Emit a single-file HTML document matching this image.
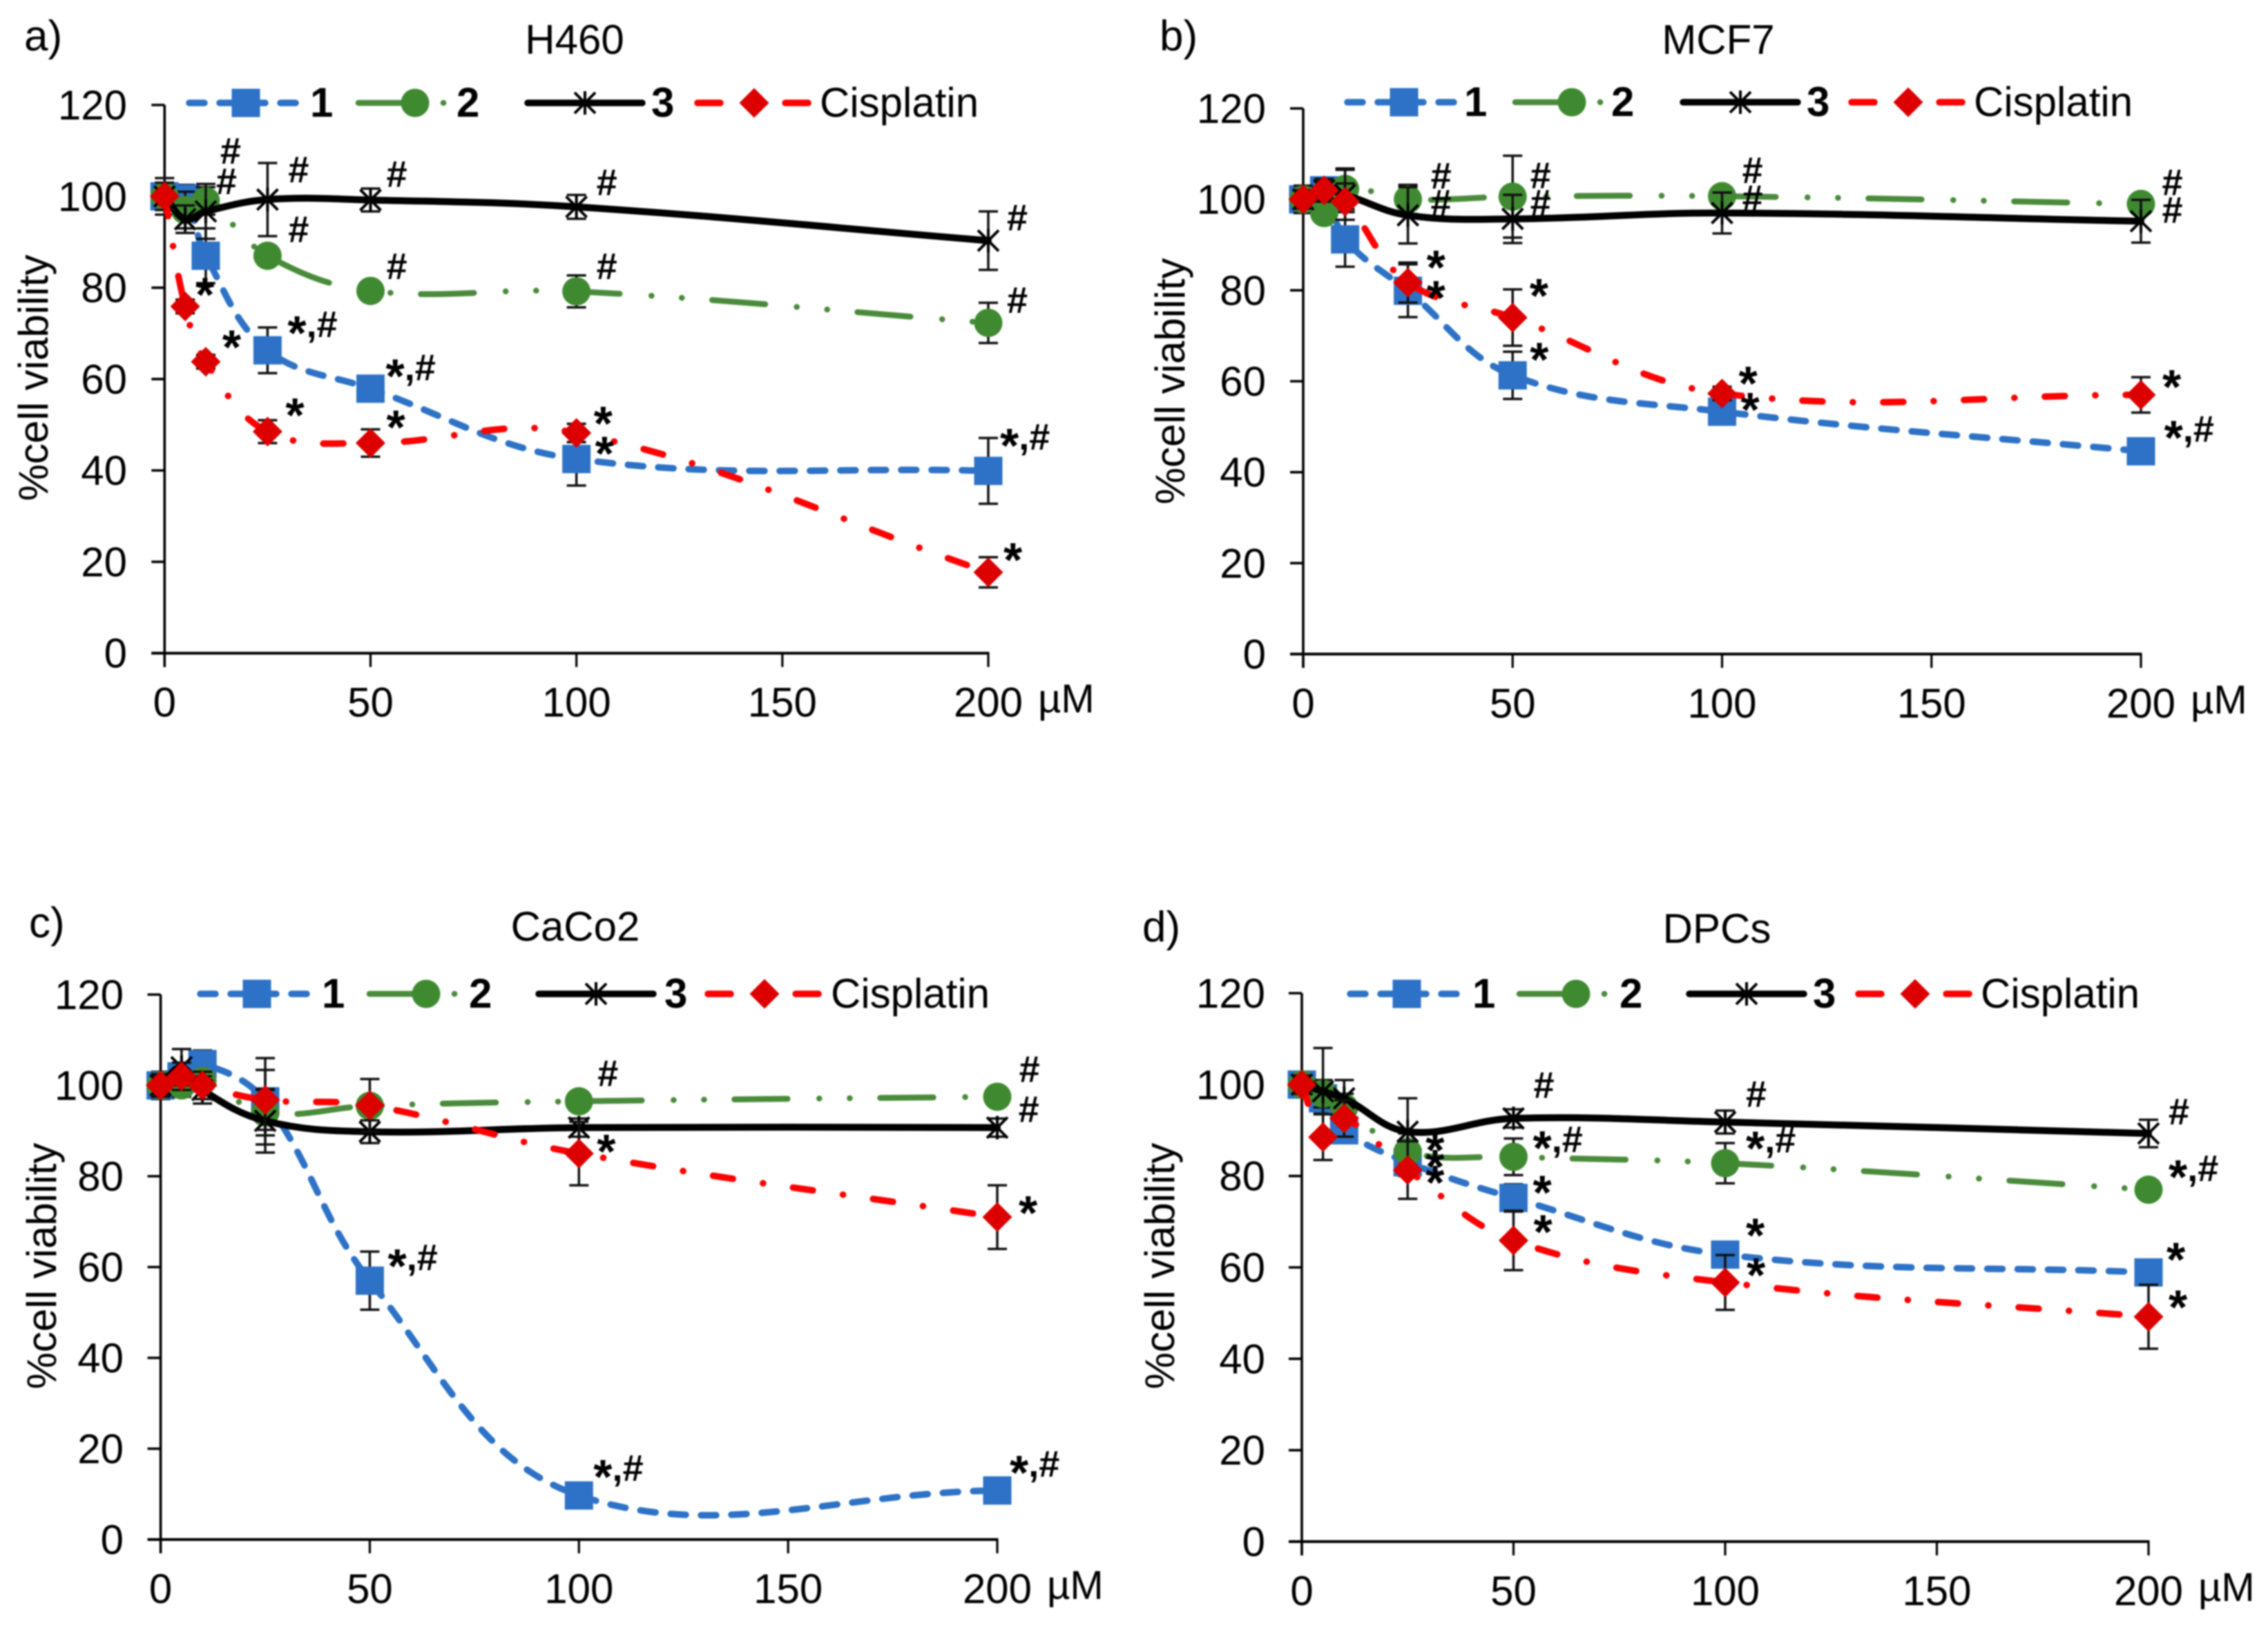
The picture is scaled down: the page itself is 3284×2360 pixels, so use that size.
<!DOCTYPE html>
<html lang="en">
<head>
<meta charset="utf-8">
<title>Cell viability charts</title>
<style>
html,body{margin:0;padding:0;background:#fff;}
svg{display:block;filter:blur(1px);}
text{font-family:"Liberation Sans",Arial,sans-serif;fill:#000;}
</style>
</head>
<body>
<svg id="root" xmlns="http://www.w3.org/2000/svg" width="3284" height="2360" viewBox="0 0 3284 2360"></svg>
<script>
const doses = [0, 5, 10, 25, 50, 100, 200];
const xTicks = [0, 50, 100, 150, 200];
const yTicks = [0, 20, 40, 60, 80, 100, 120];

const h460Compound1 = [100, 99.5, 87, 66.3, 57.9, 42.5, 39.9];
const h460Compound2 = [100, 97, 99, 87, 79.3, 79.2, 72.3];
const h460Compound3 = [100, 95, 96.7, 99.3, 99.2, 97.7, 90.3];
const h460Cisplatin = [100, 75.9, 63.8, 48.5, 46, 48.2, 17.7];
const h460Err1 = [4, 3, 6, 5, 1.5, 5.8, 7.2];
const h460Err2 = [2, 4, 3, 2, 1.5, 3.5, 4.4];
const h460Err3 = [1, 3, 6, 8, 2.5, 2.6, 6.4];
const h460ErrCis = [3, 1.5, 1.5, 2.5, 3, 2, 3.3];

const mcf7Compound1 = [100, 102, 91.2, 79.9, 61.3, 53.3, 44.6];
const mcf7Compound2 = [100, 97, 102.3, 100, 100.6, 100.7, 99];
const mcf7Compound3 = [100, 102, 101, 96.5, 95.7, 97, 95.2];
const mcf7Cisplatin = [100, 102, 99.5, 81.7, 74, 57.3, 57];
const mcf7Err1 = [3, 2, 6, 5.8, 5.2, 1.5, 1.5];
const mcf7Err2 = [3, 2, 4.5, 3.2, 9, 2, 1.5];
const mcf7Err3 = [2, 2.5, 5.5, 6.2, 5.3, 4.5, 4.7];
const mcf7ErrCis = [2, 2, 4, 4.4, 6.2, 1.5, 3.9];

const caco2Compound1 = [100, 102, 104.7, 96.5, 57, 9.7, 10.8];
const caco2Compound2 = [100, 100, 101, 94, 95.5, 96.5, 97.5];
const caco2Compound3 = [100, 104, 99, 92.2, 89.8, 90.7, 90.7];
const caco2Cisplatin = [100, 102, 100, 96.8, 95.6, 85, 71];
const caco2Err1 = [3, 3, 3, 9.5, 6.4, 1.5, 1.5];
const caco2Err2 = [2.5, 2.5, 2, 5, 2, 2, 2];
const caco2Err3 = [2.5, 4, 3, 7, 2.5, 2, 2];
const caco2ErrCis = [2, 3, 3, 6.6, 5.8, 7, 7];

const dpcCompound1 = [100, 97, 90, 83, 75.2, 62.8, 58.9];
const dpcCompound2 = [100, 98, 95, 85.3, 84.2, 82.8, 77];
const dpcCompound3 = [100, 98.5, 97, 89.7, 92.6, 91.8, 89.3];
const dpcCisplatin = [100, 88.5, 92.6, 81.3, 65.9, 56.7, 49.2];
const dpcErr1 = [2, 3, 2, 3, 3, 2, 2];
const dpcErr2 = [2, 3, 3, 4, 4, 4.4, 1.5];
const dpcErr3 = [1, 9.5, 4, 7.3, 2, 2.5, 3];
const dpcErrCis = [2, 5, 4, 6.3, 6.5, 6, 7];

const NS = 'http://www.w3.org/2000/svg';
const root = document.getElementById('root');

function add(parent, tag, attrs, name, content) {
  const el = document.createElementNS(NS, tag);
  for (const k in attrs) el.setAttribute(k, attrs[k]);
  
  
  if (content !== undefined) el.textContent = content;
  parent.appendChild(el);
  return el;
}

const BLUE = '#2d72c6', GREEN = '#3f8a30', GREENL = '#4a8b3b', RED = '#ff0000', REDM = '#dc0000';
const DASH1 = '22 22';
const DASH2 = '77 46 0.1 44 0.1 44';
const DASH4 = '29 44 0.1 44';
const FS = 60;

function xOf(p, d) { return p.left + (p.right - p.left) * d / 200; }
function yOf(p, v) { return p.bottom - (p.bottom - p.top) * v / 120; }

function smoothPath(pts) {
  const K = 0.38;
  let d = 'M' + pts[0][0].toFixed(1) + ' ' + pts[0][1].toFixed(1);
  const ctrl = (i, dir) => {
    const prev = pts[Math.max(i - 1, 0)], cur = pts[i], next = pts[Math.min(i + 1, pts.length - 1)];
    const lp = Math.hypot(cur[0] - prev[0], cur[1] - prev[1]);
    const ln = Math.hypot(next[0] - cur[0], next[1] - cur[1]);
    const tot = lp + ln || 1;
    const f = (dir > 0 ? ln : lp) / tot * K * dir;
    return [cur[0] + (next[0] - prev[0]) * f, cur[1] + (next[1] - prev[1]) * f];
  };
  for (let i = 0; i < pts.length - 1; i++) {
    const c1 = ctrl(i, 1), c2 = ctrl(i + 1, -1);
    d += 'C' + c1[0].toFixed(1) + ' ' + c1[1].toFixed(1) + ' ' + c2[0].toFixed(1) + ' ' + c2[1].toFixed(1) + ' ' + pts[i + 1][0].toFixed(1) + ' ' + pts[i + 1][1].toFixed(1);
  }
  return d;
}

function marker(g, kind, x, y, name) {
  if (kind === 'square') {
    add(g, 'rect', { x: x - 20.5, y: y - 20.5, width: 41, height: 41, fill: BLUE }, name);
  } else if (kind === 'circle') {
    add(g, 'circle', { cx: x, cy: y, r: 20.5, fill: GREEN }, name);
  } else if (kind === 'star') {
    const s = 15;
    const d = 'M' + (x - s) + ' ' + (y - s) + 'L' + (x + s) + ' ' + (y + s) + 'M' + (x - s) + ' ' + (y + s) + 'L' + (x + s) + ' ' + (y - s) + 'M' + x + ' ' + (y - s - 2) + 'L' + x + ' ' + (y + s + 2);
    add(g, 'path', { d: d, stroke: '#000', 'stroke-width': 4, fill: 'none' }, name);
  } else {
    const s = 21.5;
    add(g, 'path', { d: 'M' + x + ' ' + (y - s) + 'L' + (x + s) + ' ' + y + 'L' + x + ' ' + (y + s) + 'L' + (x - s) + ' ' + y + 'Z', fill: REDM }, name);
  }
}

function drawSeries(g, p, key, values, errs, color, width, dash, kind) {
  const sg = add(g, 'g', {}, key + '-series');
  doses.forEach((d, i) => {
    const x = xOf(p, d), hi = yOf(p, values[i] + errs[i]), lo = yOf(p, values[i] - errs[i]);
    const e = 'M' + x + ' ' + hi + 'L' + x + ' ' + lo + 'M' + (x - 14) + ' ' + hi + 'L' + (x + 14) + ' ' + hi + 'M' + (x - 14) + ' ' + lo + 'L' + (x + 14) + ' ' + lo;
    add(sg, 'path', { d: e, stroke: '#111', 'stroke-width': 3.5, fill: 'none' }, key + '-error-bar');
  });
  const pts = doses.map((d, i) => [xOf(p, d), yOf(p, values[i])]);
  const attrs = { d: smoothPath(pts), fill: 'none', stroke: color, 'stroke-width': width, 'stroke-linecap': 'round' };
  if (dash) attrs['stroke-dasharray'] = dash;
  add(sg, 'path', attrs, key + '-line');
  pts.forEach(pt => marker(sg, kind, pt[0], pt[1], key + '-marker'));
}

function drawLegendItem(g, y, start, center, color, width, dash, kind, labelX, label, bold, key) {
  const item = add(g, 'g', {}, 'legend-entry-' + key);
  const attrs = { x1: start, y1: y, x2: 2 * center - start, y2: y, stroke: color, 'stroke-width': width, 'stroke-linecap': 'round' };
  if (dash) attrs['stroke-dasharray'] = dash;
  add(item, 'line', attrs, 'legend-line-' + key);
  marker(item, kind, center, y, 'legend-marker-' + key);
  const ta = { x: labelX, y: y + 20, 'font-size': FS };
  if (bold) ta['font-weight'] = 'bold';
  add(item, 'text', ta, 'legend-label-' + key, label);
}

function note(p, values, doseIdx, text, dx, dy) {
  const x = xOf(p, doses[doseIdx]) + dx, y = yOf(p, values[doseIdx]) + dy;
  const t = add(p.g, 'text', { x: x, y: y, 'font-size': 54, 'font-weight': 'bold' }, 'significance-mark');
  let shifted = 0;
  for (const ch of text) {
    const ts = document.createElementNS(NS, 'tspan');
    if (ch === '*') {
      ts.setAttribute('font-size', '70');
      ts.setAttribute('dy', String(18 - shifted));
      ts.setAttribute('dx', '-2');
      shifted = 18;
    } else if (shifted) {
      ts.setAttribute('dy', String(-shifted));
      shifted = 0;
    }
    ts.textContent = ch;
    t.appendChild(ts);
  }
}

function drawPanel(cfg, series) {
  const p = cfg;
  p.g = add(root, 'g', {}, 'panel-' + cfg.title.toLowerCase());
  const g = p.g;
  add(g, 'text', { x: cfg.letterX, y: cfg.letterY, 'font-size': 62 }, 'panel-letter', cfg.letter);
  add(g, 'text', { x: cfg.titleX, y: cfg.titleY, 'font-size': FS, 'text-anchor': 'middle' }, 'chart-title', cfg.title);
  add(g, 'text', { x: cfg.ylabelX, y: cfg.ylabelY, 'font-size': FS, 'text-anchor': 'middle', transform: 'rotate(-90 ' + cfg.ylabelX + ' ' + cfg.ylabelY + ')' }, 'y-axis-title', '%cell viability');

  const axis = add(g, 'g', {}, 'axes');
  add(axis, 'line', { x1: p.left, y1: p.top, x2: p.left, y2: p.bottom + 20, stroke: '#000', 'stroke-width': 3.6 }, 'y-axis-line');
  add(axis, 'line', { x1: p.left - 19, y1: p.bottom, x2: p.right + 1.5, y2: p.bottom, stroke: '#000', 'stroke-width': 4 }, 'x-axis-line');
  yTicks.forEach(v => {
    const y = yOf(p, v);
    add(axis, 'line', { x1: p.left - 19, y1: y, x2: p.left, y2: y, stroke: '#000', 'stroke-width': 3.6 }, 'y-tick');
    add(axis, 'text', { x: cfg.ylabelRight, y: y + 21, 'font-size': FS, 'text-anchor': 'end' }, 'y-tick-label', String(v));
  });
  xTicks.forEach(d => {
    const x = xOf(p, d);
    add(axis, 'line', { x1: x, y1: p.bottom, x2: x, y2: p.bottom + 20, stroke: '#000', 'stroke-width': 3.2 }, 'x-tick');
    add(axis, 'text', { x: x, y: p.bottom + 92, 'font-size': FS, 'text-anchor': 'middle' }, 'x-tick-label', String(d));
  });
  add(axis, 'text', { x: p.right + 72, y: p.bottom + 86, 'font-size': 58 }, 'x-axis-unit', 'µM');

  const l = cfg.legend;
  const lg = add(g, 'g', {}, 'legend');
  drawLegendItem(lg, l.y, l.s1, l.s1 + 82, BLUE, 9.5, DASH1, 'square', l.t1, '1', true, 'compound-1');
  drawLegendItem(lg, l.y, l.s2, l.s2 + 82, GREENL, 8.5, DASH2, 'circle', l.t2, '2', true, 'compound-2');
  drawLegendItem(lg, l.y, l.s3, l.s3 + 83, '#000', 9.5, null, 'star', l.t3, '3', true, 'compound-3');
  drawLegendItem(lg, l.y, l.s4, l.s4 + 82, RED, 9.5, '33 47 0.1 47', 'diamond', l.t4, 'Cisplatin', false, 'cisplatin');

  drawSeries(g, p, 'compound-1', series[0], series[4], BLUE, 9.5, DASH1, 'square');
  drawSeries(g, p, 'compound-2', series[1], series[5], GREENL, 8.5, DASH2, 'circle');
  drawSeries(g, p, 'compound-3', series[2], series[6], '#000', 10, null, 'star');
  drawSeries(g, p, 'cisplatin', series[3], series[7], RED, 9.5, DASH4, 'diamond');
  return p;
}

const a = drawPanel({ letter: 'a)', title: 'H460', left: 238.3, right: 1431, top: 152, bottom: 945.7,
  letterX: 35, letterY: 73, titleX: 832, titleY: 78, ylabelX: 69, ylabelY: 547, ylabelRight: 184,
  legend: { y: 149, s1: 274, t1: 449, s2: 519, t2: 661, s3: 764, t3: 943, s4: 1010, t4: 1187 } },
  [h460Compound1, h460Compound2, h460Compound3, h460Cisplatin, h460Err1, h460Err2, h460Err3, h460ErrCis]);

const b = drawPanel({ letter: 'b)', title: 'MCF7', left: 1887, right: 3100, top: 157, bottom: 947,
  letterX: 1679, letterY: 73, titleX: 2488, titleY: 78, ylabelX: 1715, ylabelY: 552, ylabelRight: 1833,
  legend: { y: 148, s1: 1951, t1: 2120, s2: 2194, t2: 2333, s3: 2437, t3: 2616, s4: 2681, t4: 2858 } },
  [mcf7Compound1, mcf7Compound2, mcf7Compound3, mcf7Cisplatin, mcf7Err1, mcf7Err2, mcf7Err3, mcf7ErrCis]);

const c = drawPanel({ letter: 'c)', title: 'CaCo2', left: 232.6, right: 1444, top: 1440, bottom: 2229,
  letterX: 42, letterY: 1357, titleX: 833, titleY: 1362, ylabelX: 81, ylabelY: 1833, ylabelRight: 179,
  legend: { y: 1439, s1: 290, t1: 466, s2: 535, t2: 679, s3: 780, t3: 962, s4: 1025, t4: 1203 } },
  [caco2Compound1, caco2Compound2, caco2Compound3, caco2Cisplatin, caco2Err1, caco2Err2, caco2Err3, caco2ErrCis]);

const d = drawPanel({ letter: 'd)', title: 'DPCs', left: 1885, right: 3111, top: 1438, bottom: 2232,
  letterX: 1654, letterY: 1363, titleX: 2486, titleY: 1365, ylabelX: 1700, ylabelY: 1833, ylabelRight: 1832,
  legend: { y: 1439, s1: 1955, t1: 2132, s2: 2200, t2: 2345, s3: 2446, t3: 2625, s4: 2691, t4: 2868 } },
  [dpcCompound1, dpcCompound2, dpcCompound3, dpcCisplatin, dpcErr1, dpcErr2, dpcErr3, dpcErrCis]);

note(a, h460Compound3, 2, '#', 21, -69);
note(a, h460Compound2, 2, '#', 15, -10);
note(a, h460Compound3, 3, '#', 30, -25);
note(a, h460Compound2, 3, '#', 30, -20);
note(a, h460Compound3, 4, '#', 23, -19);
note(a, h460Compound2, 4, '#', 23, -17);
note(a, h460Compound3, 5, '#', 29, -17);
note(a, h460Compound2, 5, '#', 29, -18);
note(a, h460Compound3, 6, '#', 27, -15);
note(a, h460Compound2, 6, '#', 27, -14.5);
note(a, h460Compound1, 3, '*,#', 31, -19);
note(a, h460Compound1, 4, '*,#', 24, -12);
note(a, h460Compound1, 6, '*,#', 19, -31);
note(a, h460Cisplatin, 1, '*', 17, -11);
note(a, h460Cisplatin, 2, '*', 26, -15);
note(a, h460Cisplatin, 3, '*', 28, -18);
note(a, h460Cisplatin, 4, '*', 25, -17);
note(a, h460Cisplatin, 5, '*', 27, -8);
note(a, h460Compound1, 5, '*', 29, -2);
note(a, h460Cisplatin, 6, '*', 24, -12);

note(b, mcf7Compound2, 3, '#', 33, -15.5);
note(b, mcf7Compound3, 3, '#', 33, 0.5);
note(b, mcf7Compound2, 4, '#', 25.5, -12);
note(b, mcf7Compound3, 4, '#', 25.5, -5);
note(b, mcf7Cisplatin, 3, '*', 29, -16);
note(b, mcf7Compound1, 3, '*', 29, 16);
note(b, mcf7Cisplatin, 4, '*', 26.5, -26);
note(b, mcf7Compound1, 4, '*', 27, -17);
note(b, mcf7Compound2, 5, '#', 29, -19);
note(b, mcf7Compound3, 5, '#', 29, -3);
note(b, mcf7Compound2, 6, '#', 30.5, -13);
note(b, mcf7Compound3, 6, '#', 30.5, 2);
note(b, mcf7Cisplatin, 5, '*', 26, -9);
note(b, mcf7Compound1, 5, '*', 29, 3);
note(b, mcf7Cisplatin, 6, '*', 33, -5.6);
note(b, mcf7Compound1, 6, '*,#', 35.6, -14);

note(c, caco2Compound2, 5, '#', 27, -22);
note(c, caco2Compound2, 6, '#', 31.6, -21.5);
note(c, caco2Compound3, 6, '#', 30.6, -8);
note(c, caco2Cisplatin, 5, '*', 28, 3);
note(c, caco2Cisplatin, 6, '*', 33, 0);
note(c, caco2Compound1, 4, '*,#', 28, -15);
note(c, caco2Compound1, 5, '*,#', 23, -21);
note(c, caco2Compound1, 6, '*,#', 20, -20);

note(d, dpcCompound3, 4, '#', 29, -30);
note(d, dpcCompound2, 4, '*,#', 30, -7);
note(d, dpcCompound1, 4, '*', 30, -2);
note(d, dpcCisplatin, 4, '*', 31, -6.5);
note(d, dpcCompound2, 3, '*', 28, 3.5);
note(d, dpcCompound1, 3, '*', 28, 12);
note(d, dpcCisplatin, 3, '*', 28, 24);
note(d, dpcCompound3, 5, '#', 30, -22);
note(d, dpcCompound2, 5, '*,#', 32, -15.5);
note(d, dpcCompound1, 5, '*', 32, -22);
note(d, dpcCisplatin, 5, '*', 33, -5);
note(d, dpcCompound3, 6, '#', 29, -13);
note(d, dpcCompound2, 6, '*,#', 31, -12.5);
note(d, dpcCompound1, 6, '*', 28, -13);
note(d, dpcCisplatin, 6, '*', 31, -8);
</script>
</body>
</html>
